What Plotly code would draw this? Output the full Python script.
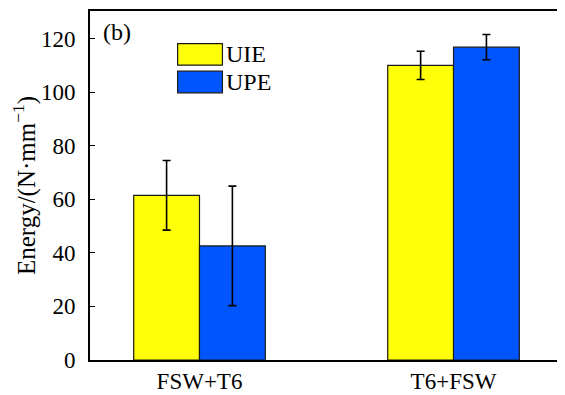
import plotly.graph_objects as go

categories = ["FSW+T6", "T6+FSW"]
series_names = ["UIE", "UPE"]
uie_values = [61.5, 110.0]
uie_errors = [13.0, 5.3]
upe_values = [42.6, 116.8]
upe_errors = [22.3, 4.7]
y_ticks = [0, 20, 40, 60, 80, 100, 120]

colors = ["#FFFF0A", "#0055FF"]
FONT = "Liberation Serif, Times New Roman, serif"

fig = go.Figure()
for name, vals, errs, col in [
    (series_names[0], uie_values, uie_errors, colors[0]),
    (series_names[1], upe_values, upe_errors, colors[1]),
]:
    fig.add_trace(go.Bar(
        x=categories, y=vals, name=name,
        marker=dict(color=col, line=dict(color="#1a1a1a", width=1.2)),
        error_y=dict(type="data", array=errs, visible=True,
                     color="black", thickness=1.6, width=4),
        showlegend=False,
    ))

OFF = 8  # page body margin
W, H = 565 - OFF, 395 - OFF
L, T = 90 - OFF, 10 - OFF
R = W - (564 - OFF)
B = H - (364 - OFF)
pw, ph = W - L - R, H - T - B

def px(x):
    return (x - OFF - L) / pw

def py(y):
    return (H - B - (y - OFF)) / ph

shapes = []
annotations = []
box_tops = [43, 71]
for name, col, top in zip(series_names, colors, box_tops):
    shapes.append(dict(type="rect", xref="paper", yref="paper",
                       x0=px(178), x1=px(223), y0=py(top + 22), y1=py(top),
                       fillcolor=col, line=dict(color="#1a1a1a", width=1.2)))
    annotations.append(dict(xref="paper", yref="paper", x=px(225), y=py(top + 11),
                            text=name, showarrow=False, xanchor="left", yanchor="middle",
                            font=dict(family=FONT, size=24, color="black")))
annotations.append(dict(xref="paper", yref="paper", x=px(101), y=py(31),
                        text="(b)", showarrow=False, xanchor="left", yanchor="middle",
                        font=dict(family=FONT, size=24, color="black")))

fig.update_layout(
    width=W, height=H,
    margin=dict(l=L, r=R, t=T, b=B),
    paper_bgcolor="white", plot_bgcolor="white",
    barmode="group", bargap=0.482, bargroupgap=0,
    font=dict(family=FONT, size=23, color="black"),
    shapes=shapes, annotations=annotations,
)
fig.update_xaxes(
    type="category", range=[-0.431, 1.427],
    showline=True, linecolor="black", linewidth=1.6, mirror=True,
    ticks="", showgrid=False,
    tickfont=dict(family=FONT, size=23),
)
fig.update_yaxes(
    range=[0, 130.3], tickvals=y_ticks,
    showline=True, linecolor="black", linewidth=1.6, mirror=True,
    ticks="inside", ticklen=5, tickwidth=1.2, tickcolor="black",
    showgrid=False, zeroline=False,
    tickfont=dict(family=FONT, size=23),
    ticklabelstandoff=8,
    title=dict(text="Energy/(N·mm<sup>−1</sup>)", font=dict(family=FONT, size=25), standoff=6),
)

fig.write_html("out.html")
